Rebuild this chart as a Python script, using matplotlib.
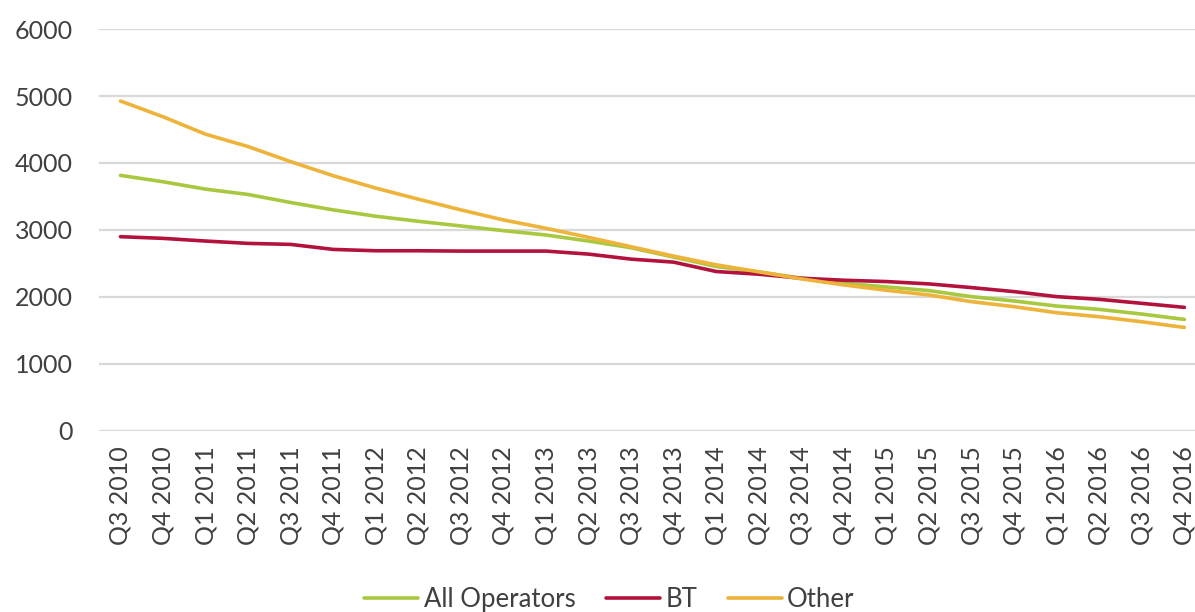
import matplotlib
matplotlib.use("Agg")
import matplotlib.pyplot as plt

plt.rcParams['font.family'] = ['Lato', 'DejaVu Sans']

quarters = [
    "Q3 2010", "Q4 2010",
    "Q1 2011", "Q2 2011", "Q3 2011", "Q4 2011",
    "Q1 2012", "Q2 2012", "Q3 2012", "Q4 2012",
    "Q1 2013", "Q2 2013", "Q3 2013", "Q4 2013",
    "Q1 2014", "Q2 2014", "Q3 2014", "Q4 2014",
    "Q1 2015", "Q2 2015", "Q3 2015", "Q4 2015",
    "Q1 2016", "Q2 2016", "Q3 2016", "Q4 2016",
]

all_operators = [3815, 3720, 3610, 3530, 3410, 3300, 3205, 3130, 3060, 2990,
                 2925, 2835, 2735, 2595, 2455, 2375, 2280, 2205, 2150, 2095,
                 2005, 1940, 1865, 1815, 1745, 1665]
bt = [2900, 2875, 2835, 2800, 2785, 2710, 2690, 2690, 2685, 2685,
      2685, 2640, 2565, 2520, 2380, 2340, 2280, 2250, 2230, 2195,
      2140, 2080, 2005, 1965, 1905, 1845]
other = [4925, 4690, 4430, 4245, 4020, 3810, 3625, 3460, 3300, 3150,
         3025, 2890, 2750, 2610, 2480, 2375, 2270, 2180, 2100, 2030,
         1930, 1855, 1765, 1705, 1630, 1545]

series = [
    ("All Operators", all_operators, "#A8C83F"),
    ("BT", bt, "#B3123D"),
    ("Other", other, "#EEB33A"),
]

fig = plt.figure(figsize=(11.95, 6.12), dpi=100)
ax = fig.add_axes([0.083, 0.2958, 0.917, 0.6568])

x = list(range(len(quarters)))
for name, vals, col in series:
    ax.plot(x, vals, color=col, lw=2.6, label=name,
            solid_joinstyle="round", solid_capstyle="round")

ax.set_ylim(0, 6000)
ax.set_xlim(-0.5, 25.25)
ax.set_yticks(range(0, 6001, 1000))
ax.set_xticks(x)
ax.set_xticklabels(quarters, rotation=90)

ax.grid(axis="y", color="#D9D9D9", lw=1.6)
ax.set_axisbelow(True)
for s in ax.spines.values():
    s.set_visible(False)

ax.tick_params(axis="y", length=0, pad=19, labelsize=18, labelcolor="#404040")
ax.tick_params(axis="x", length=0, pad=11, labelsize=18, labelcolor="#404040")

fig.legend(loc="center", bbox_to_anchor=(0.51, 0.02), ncol=3, frameon=False,
           fontsize=18.5, handlelength=2.1, handletextpad=0.2,
           columnspacing=1.2, labelcolor="#404040")

fig.savefig("out.png", dpi=100)
